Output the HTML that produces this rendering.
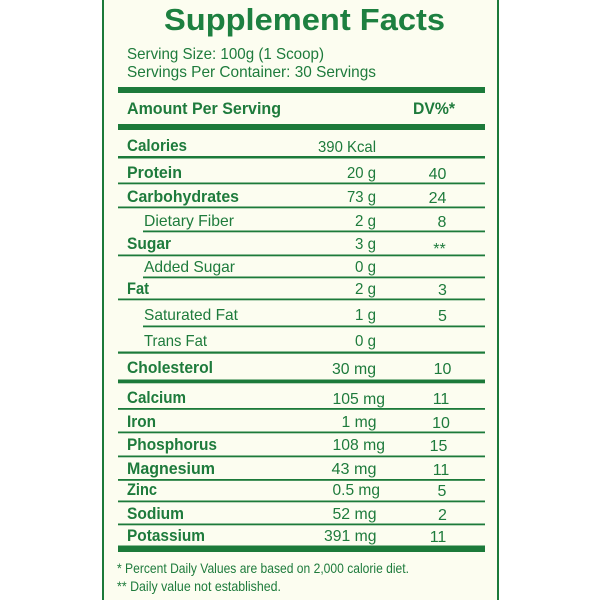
<!DOCTYPE html>
<html>
<head>
<meta charset="utf-8">
<style>
  html, body { margin:0; padding:0; background:#ffffff; }
  svg { display:block; }
  text { font-family: "Liberation Sans", "DejaVu Sans", sans-serif; fill:#1e7b3c; }
  .b { font-weight:bold; font-size:16.5px; }
  .r { font-size:16px; }
  .s { font-size:16px; }
  .f { font-size:14px; }
  .d { font-size:16px; text-anchor:middle; }
</style>
</head>
<body>
<svg width="600" height="600" viewBox="0 0 600 600" xmlns="http://www.w3.org/2000/svg">
  <rect x="0" y="0" width="600" height="600" fill="#ffffff"/>
  <!-- box -->
  <rect x="102" y="0" width="397" height="600" fill="#fcfdf0"/>
  <rect x="102" y="0" width="2" height="600" fill="#1c7a3a"/>
  <rect x="497" y="0" width="2" height="600" fill="#1c7a3a"/>

  <!-- title -->
  <text x="164" y="30" font-weight="bold" font-size="31" textLength="281" lengthAdjust="spacingAndGlyphs" style="fill:#1d8040">Supplement Facts</text>
  <text class="s" x="127" y="59" textLength="197" lengthAdjust="spacingAndGlyphs">Serving Size: 100g (1 Scoop)</text>
  <text class="s" x="127" y="77" textLength="249" lengthAdjust="spacingAndGlyphs">Servings Per Container: 30 Servings</text>

  <!-- rules -->
  <g fill="#1c7a3a">
    <rect x="118" y="87" width="367" height="6"/>
    <rect x="118" y="124" width="367" height="6"/>
    <rect x="118" y="156" width="367" height="2.5"/>
    <rect x="118" y="182.5" width="367" height="1.8"/>
    <rect x="118" y="206.5" width="367" height="1.8"/>
    <rect x="143" y="230.5" width="342" height="1.8"/>
    <rect x="118" y="254.5" width="367" height="1.8"/>
    <rect x="143" y="276.5" width="342" height="1.8"/>
    <rect x="118" y="298.5" width="367" height="1.8"/>
    <rect x="143" y="325.5" width="342" height="1.8"/>
    <rect x="118" y="351.5" width="367" height="2.2"/>
    <rect x="118" y="379.5" width="367" height="3.8"/>
    <rect x="118" y="408" width="367" height="1.8"/>
    <rect x="118" y="431.5" width="367" height="1.8"/>
    <rect x="118" y="455.5" width="367" height="1.8"/>
    <rect x="118" y="479" width="367" height="1.8"/>
    <rect x="118" y="500.5" width="367" height="1.8"/>
    <rect x="118" y="523.5" width="367" height="1.8"/>
    <rect x="118" y="545.5" width="367" height="6.5"/>
  </g>

  <!-- header -->
  <text class="b" x="127" y="114" textLength="154" lengthAdjust="spacingAndGlyphs">Amount Per Serving</text>
  <text class="b" x="413" y="114" textLength="42" lengthAdjust="spacingAndGlyphs">DV%*</text>

  <!-- labels -->
  <text class="b" x="127" y="151" textLength="60" lengthAdjust="spacingAndGlyphs">Calories</text>
  <text class="b" x="127" y="178" textLength="55" lengthAdjust="spacingAndGlyphs">Protein</text>
  <text class="b" x="127" y="202" textLength="112" lengthAdjust="spacingAndGlyphs">Carbohydrates</text>
  <text class="r" x="144" y="226" textLength="90" lengthAdjust="spacingAndGlyphs">Dietary Fiber</text>
  <text class="b" x="127" y="249" textLength="44" lengthAdjust="spacingAndGlyphs">Sugar</text>
  <text class="r" x="144" y="272" textLength="91" lengthAdjust="spacingAndGlyphs">Added Sugar</text>
  <text class="b" x="127" y="294" textLength="22" lengthAdjust="spacingAndGlyphs">Fat</text>
  <text class="r" x="144" y="320" textLength="94" lengthAdjust="spacingAndGlyphs">Saturated Fat</text>
  <text class="r" x="144" y="346" textLength="63" lengthAdjust="spacingAndGlyphs">Trans Fat</text>
  <text class="b" x="127" y="373" textLength="86" lengthAdjust="spacingAndGlyphs">Cholesterol</text>
  <text class="b" x="127" y="403" textLength="59" lengthAdjust="spacingAndGlyphs">Calcium</text>
  <text class="b" x="127" y="427" textLength="29" lengthAdjust="spacingAndGlyphs">Iron</text>
  <text class="b" x="127" y="450" textLength="90" lengthAdjust="spacingAndGlyphs">Phosphorus</text>
  <text class="b" x="127" y="474" textLength="88" lengthAdjust="spacingAndGlyphs">Magnesium</text>
  <text class="b" x="127" y="495" textLength="30" lengthAdjust="spacingAndGlyphs">Zinc</text>
  <text class="b" x="127" y="519" textLength="57" lengthAdjust="spacingAndGlyphs">Sodium</text>
  <text class="b" x="127" y="541" textLength="78" lengthAdjust="spacingAndGlyphs">Potassium</text>

  <!-- values -->
  <text class="r" x="318" y="152" textLength="58" lengthAdjust="spacingAndGlyphs">390 Kcal</text>
  <text class="r" x="347" y="178" textLength="29" lengthAdjust="spacingAndGlyphs">20 g</text>
  <text class="r" x="347" y="202" textLength="29" lengthAdjust="spacingAndGlyphs">73 g</text>
  <text class="r" x="355" y="226" textLength="21" lengthAdjust="spacingAndGlyphs">2 g</text>
  <text class="r" x="355" y="249" textLength="21" lengthAdjust="spacingAndGlyphs">3 g</text>
  <text class="r" x="355" y="272" textLength="21" lengthAdjust="spacingAndGlyphs">0 g</text>
  <text class="r" x="355" y="294" textLength="21" lengthAdjust="spacingAndGlyphs">2 g</text>
  <text class="r" x="355" y="320" textLength="21" lengthAdjust="spacingAndGlyphs">1 g</text>
  <text class="r" x="355" y="346" textLength="21" lengthAdjust="spacingAndGlyphs">0 g</text>
  <text class="r" x="332" y="374" textLength="44" lengthAdjust="spacingAndGlyphs">30 mg</text>
  <text class="r" x="332.5" y="404" textLength="52.5" lengthAdjust="spacingAndGlyphs">105 mg</text>
  <text class="r" x="341.5" y="427" textLength="35" lengthAdjust="spacingAndGlyphs">1 mg</text>
  <text class="r" x="332.5" y="450" textLength="52.5" lengthAdjust="spacingAndGlyphs">108 mg</text>
  <text class="r" x="331.5" y="474" textLength="45" lengthAdjust="spacingAndGlyphs">43 mg</text>
  <text class="r" x="332.5" y="495" textLength="47.5" lengthAdjust="spacingAndGlyphs">0.5 mg</text>
  <text class="r" x="332.5" y="519" textLength="44" lengthAdjust="spacingAndGlyphs">52 mg</text>
  <text class="r" x="324" y="541" textLength="52.5" lengthAdjust="spacingAndGlyphs">391 mg</text>

  <!-- DV -->
  <text class="d" x="437.5" y="179">40</text>
  <text class="d" x="437.5" y="203">24</text>
  <text class="d" x="442" y="227">8</text>
  <text class="d" x="439.5" y="254">**</text>
  <text class="d" x="442.5" y="295">3</text>
  <text class="d" x="442.5" y="321">5</text>
  <text class="d" x="442.5" y="374">10</text>
  <text class="d" x="441" y="404">11</text>
  <text class="d" x="441" y="428">10</text>
  <text class="d" x="438.5" y="451">15</text>
  <text class="d" x="441" y="475">11</text>
  <text class="d" x="442" y="496">5</text>
  <text class="d" x="442.5" y="520">2</text>
  <text class="d" x="438" y="542">11</text>

  <!-- footnotes -->
  <text class="f" x="117" y="573" textLength="292" lengthAdjust="spacingAndGlyphs">* Percent Daily Values are based on 2,000 calorie diet.</text>
  <text class="f" x="117" y="591" textLength="164" lengthAdjust="spacingAndGlyphs">** Daily value not established.</text>
</svg>
</body>
</html>
